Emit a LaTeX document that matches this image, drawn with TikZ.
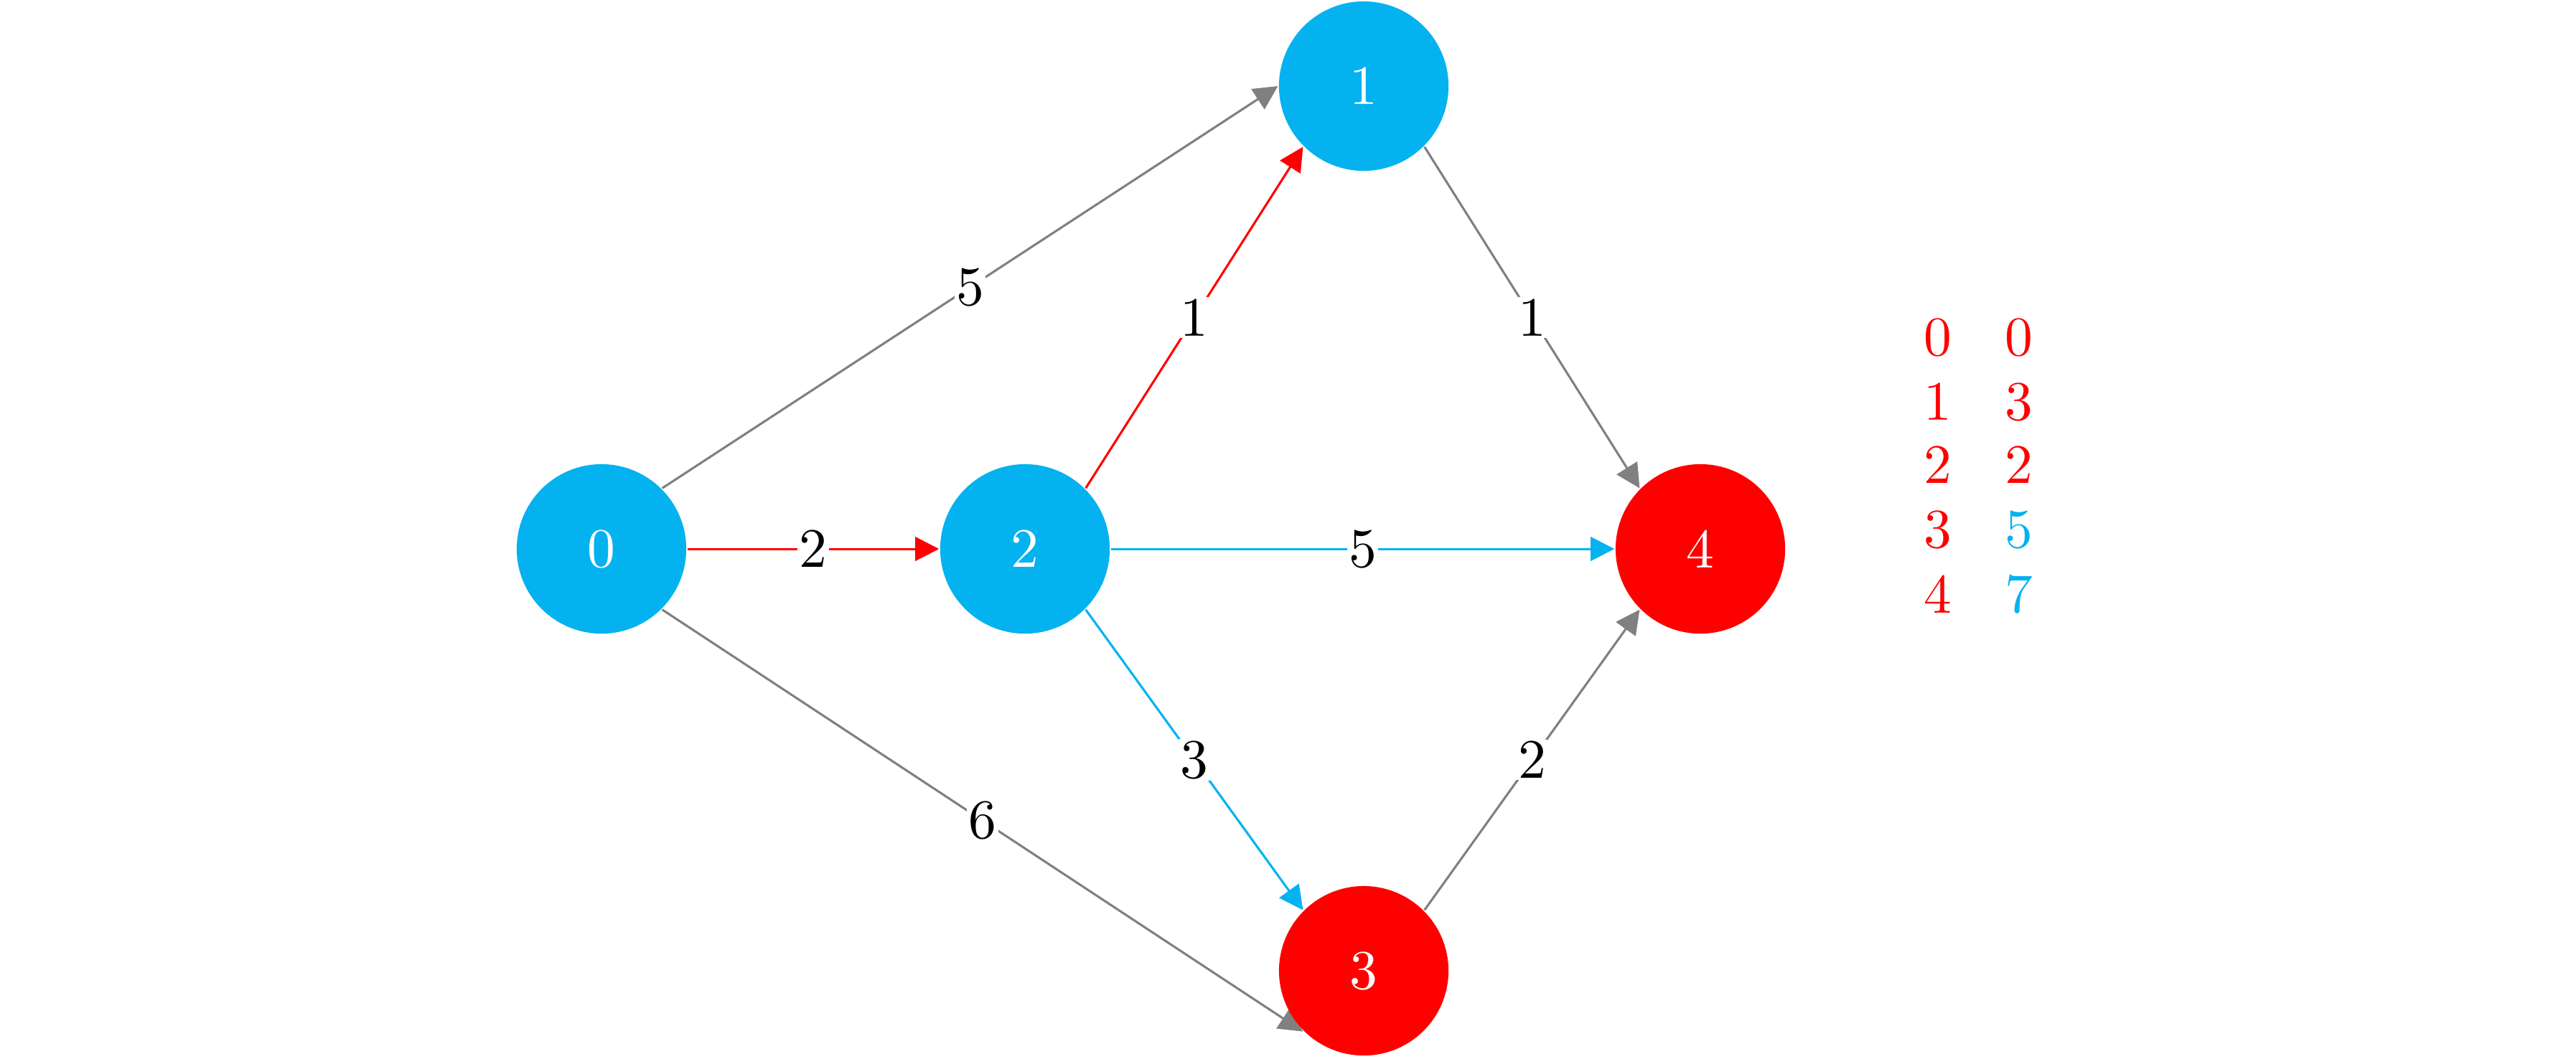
\documentclass[tikz,border=0pt]{standalone}
\usetikzlibrary{arrows.meta,backgrounds}
\definecolor{nblue}{RGB}{4,178,240}
\definecolor{ngray}{RGB}{128,128,128}
\tikzset{
  vtx/.style={circle,fill=#1,text=white,minimum size=10.7mm,inner sep=0pt},
  wt/.style={fill=white,inner sep=0.3pt,text=black},
}
\begin{document}
\begin{tikzpicture}[x=0.453cm,y=-0.453cm,>={Triangle[length=4.3pt,width=4.3pt]}]
\useasboundingbox (0,0) rectangle (35.89,14.75);
\node[vtx=nblue] (N0) at (8.38,7.65) {0};
\node[vtx=nblue] (N1) at (19.00,1.20) {1};
\node[vtx=nblue] (N2) at (14.28,7.65) {2};
\node[vtx=red] (N3) at (19.00,13.53) {3};
\node[vtx=red] (N4) at (23.69,7.65) {4};
\begin{pgfonlayer}{background}
\draw[->,ngray] (N0.north east) -- node[midway,wt]{5} (N1.west);
\draw[->,red] (N0.east) -- node[midway,wt]{2} (N2.west);
\draw[->,ngray] (N0.south east) -- node[midway,wt]{6} (N3.south west);
\draw[->,red] (N2.north east) -- node[midway,wt]{1} (N1.south west);
\draw[->,nblue] (N2.east) -- node[midway,wt]{5} (N4.west);
\draw[->,nblue] (N2.south east) -- node[midway,wt]{3} (N3.north west);
\draw[->,ngray] (N1.south east) -- node[midway,wt]{1} (N4.north west);
\draw[->,ngray] (N3.north east) -- node[midway,wt]{2} (N4.south west);
\end{pgfonlayer}
% distances
\node[red] (K0) at (27.00,4.70) {0};
\node[red] (D0) at (28.13,4.70) {0};
\node[red] (K1) at (27.00,5.60) {1};
\node[red] (D1) at (28.13,5.60) {3};
\node[red] (K2) at (27.00,6.48) {2};
\node[red] (D2) at (28.13,6.48) {2};
\node[red] (K3) at (27.00,7.38) {3};
\node[nblue] (D3) at (28.13,7.38) {5};
\node[red] (K4) at (27.00,8.28) {4};
\node[nblue] (D4) at (28.13,8.28) {7};
\end{tikzpicture}
\end{document}
